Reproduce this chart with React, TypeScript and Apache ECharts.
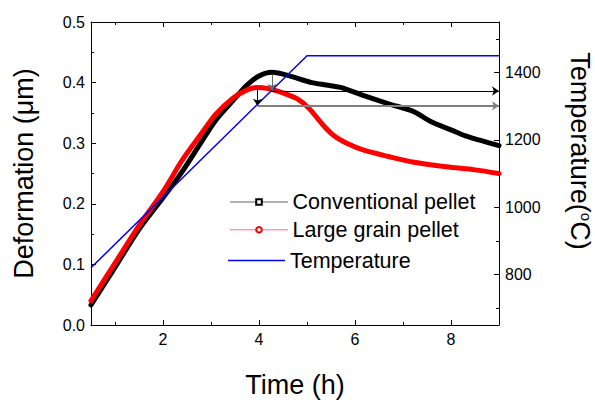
import React, { useEffect, useRef } from 'react';
import * as echarts from 'echarts';

// ---- data ----
const conventionalTime = [0.5, 1.0, 1.5, 2.0, 2.4, 2.8, 3.1, 3.5, 3.75, 4.0, 4.27, 4.5, 4.8, 5.1, 5.4, 5.7, 6.2, 6.7, 7.2, 7.6, 8.0, 8.3, 8.6, 9.0];
const conventionalDeformation = [0.033, 0.095, 0.158, 0.21, 0.253, 0.302, 0.338, 0.374, 0.396, 0.411, 0.417, 0.414, 0.407, 0.4, 0.396, 0.392, 0.378, 0.365, 0.353, 0.335, 0.322, 0.312, 0.305, 0.296];
const largeGrainTime = [0.5, 1.0, 1.5, 2.0, 2.4, 2.8, 3.1, 3.45, 3.75, 3.95, 4.2, 4.5, 4.8, 5.05, 5.3, 5.55, 5.85, 6.2, 6.7, 7.2, 7.9, 8.5, 9.0];
const largeGrainDeformation = [0.04, 0.102, 0.164, 0.22, 0.272, 0.316, 0.348, 0.374, 0.388, 0.392, 0.39, 0.383, 0.373, 0.357, 0.333, 0.313, 0.299, 0.288, 0.278, 0.269, 0.261, 0.256, 0.25];
const temperatureTime = [0.5, 5.0, 9.0];
const temperatureValues = [820, 1450, 1450];

const xMajorTicks = [2, 4, 6, 8];
const xMinorTicks = [1, 3, 5, 7, 9];
const tempMajorTicks = [800, 1000, 1200, 1400];
const tempMinorTicks = [700, 900, 1100, 1300, 1500];

const arrowTimes = [4.27, 3.97];
const arrowStartTemps = [1394, 1352];
const arrowEndTemps = [1345, 1301];
const arrowEndTime = 9;

const FONT = '"Liberation Sans", Arial, sans-serif';

export default function App() {
  const ref = useRef<HTMLDivElement>(null);
  useEffect(() => {
    if (!ref.current) return;
    const chart = echarts.init(ref.current, undefined, { renderer: 'svg' });
    const axisLine = { show: true, lineStyle: { color: '#000', width: 1 } };
    const baseX = { type: 'value', min: 0.5, max: 9, splitLine: { show: false } };
    const baseT = { type: 'value', min: 650, max: 1550, splitLine: { show: false } };

    const verticalStyles = [
      { color: '#666', width: 1 },
      { color: '#000', width: 1 },
    ];
    const horizontalStyles = [
      { color: '#000', width: 1 },
      { color: '#808080', width: 2 },
    ];
    const markData: any[] = [];
    arrowTimes.forEach((t, i) => {
      markData.push([
        { coord: [t, arrowStartTemps[i]], lineStyle: { ...verticalStyles[i], type: 'solid' } },
        { coord: [t, arrowEndTemps[i]] },
      ]);
      markData.push([
        { coord: [t, arrowEndTemps[i]], lineStyle: { ...horizontalStyles[i], type: 'solid' } },
        { coord: [arrowEndTime, arrowEndTemps[i]] },
      ]);
    });

    const option: any = {
      animation: false,
      textStyle: { fontFamily: FONT, color: '#000' },
      grid: { left: 91, right: 96, top: 22, bottom: 75, containLabel: false },
      xAxis: [
        {
          ...baseX,
          position: 'bottom',
          axisLine,
          axisTick: { show: true, inside: true, length: 5, customValues: xMajorTicks, lineStyle: { color: '#000' } },
          axisLabel: { show: true, customValues: xMajorTicks, fontSize: 16, color: '#000', margin: 6, fontFamily: FONT },
          name: 'Time (h)',
          nameLocation: 'middle',
          nameGap: 46,
          nameTextStyle: { fontSize: 27, color: '#000', fontFamily: FONT },
        },
        {
          ...baseX,
          position: 'bottom',
          axisLine: { show: false },
          axisTick: { show: true, inside: true, length: 3, customValues: xMinorTicks, lineStyle: { color: '#000' } },
          axisLabel: { show: false },
        },
        {
          ...baseX,
          position: 'top',
          axisLine,
          axisTick: { show: true, inside: true, length: 5, customValues: xMajorTicks, lineStyle: { color: '#000' } },
          axisLabel: { show: false },
        },
        {
          ...baseX,
          position: 'top',
          axisLine: { show: false },
          axisTick: { show: true, inside: true, length: 3, customValues: xMinorTicks, lineStyle: { color: '#000' } },
          axisLabel: { show: false },
        },
      ],
      yAxis: [
        {
          type: 'value',
          min: 0,
          max: 0.5,
          interval: 0.1,
          position: 'left',
          splitLine: { show: false },
          axisLine,
          axisTick: { show: true, inside: true, length: 5, lineStyle: { color: '#000' } },
          minorTick: { show: true, splitNumber: 2, length: 3, lineStyle: { color: '#000' } },
          axisLabel: { fontSize: 16, color: '#000', margin: 6, fontFamily: FONT, formatter: (v: number) => v.toFixed(1) },
          name: 'Deformation (\u03bcm)',
          nameLocation: 'middle',
          nameGap: 54,
          nameTextStyle: { fontSize: 27, color: '#000', fontFamily: FONT },
        },
        {
          ...baseT,
          position: 'right',
          axisLine,
          axisTick: { show: true, inside: true, length: 5, customValues: tempMajorTicks, lineStyle: { color: '#000' } },
          axisLabel: {
            show: true,
            customValues: tempMajorTicks,
            fontSize: 16,
            color: '#000',
            margin: 6,
            fontFamily: FONT,
            formatter: (v: number) => String(v),
          },
        },
        {
          ...baseT,
          position: 'right',
          axisLine: { show: false },
          axisTick: { show: true, inside: true, length: 3, customValues: tempMinorTicks, lineStyle: { color: '#000' } },
          axisLabel: { show: false },
        },
      ],
      legend: [
        {
          data: [
            { name: 'Conventional pellet', lineStyle: { color: '#606060', width: 1 } },
            { name: 'Large grain pellet', lineStyle: { color: '#ff7070', width: 1 } },
          ],
          orient: 'vertical',
          left: 230,
          top: 191,
          padding: 0,
          itemGap: 5.8,
          itemWidth: 57,
          itemHeight: 7,
          selectedMode: false,
          lineStyle: { width: 1 },
          textStyle: { fontSize: 21.5, color: '#000', fontFamily: FONT },
        },
        {
          data: [{ name: 'Temperature', icon: 'rect' }],
          orient: 'vertical',
          left: 228,
          top: 249.5,
          padding: 0,
          itemWidth: 57,
          itemHeight: 1.5,
          selectedMode: false,
          textStyle: { fontSize: 21.5, color: '#000', fontFamily: FONT },
        },
      ],
      graphic: [
        {
          type: 'text',
          x: 580,
          y: 151,
          rotation: -Math.PI / 2,
          style: {
            text: 'Temperature({s|o}C)',
            align: 'center',
            verticalAlign: 'middle',
            fontSize: 27,
            fontFamily: FONT,
            fill: '#000',
            rich: { s: { fontSize: 15, fontFamily: FONT, verticalAlign: 'top', fill: '#000' } },
          },
        },
      ],
      series: [
        {
          name: 'Conventional pellet',
          type: 'line',
          xAxisIndex: 0,
          yAxisIndex: 0,
          data: conventionalTime.map((t, i) => [t, conventionalDeformation[i]]),
          symbol: 'emptyRect',
          symbolSize: 5,
          showSymbol: false,
          smooth: 0.3,
          lineStyle: { color: '#000', width: 5, cap: 'round', join: 'round' },
          itemStyle: { color: '#000' },
          z: 2,
        },
        {
          name: 'Large grain pellet',
          type: 'line',
          xAxisIndex: 0,
          yAxisIndex: 0,
          data: largeGrainTime.map((t, i) => [t, largeGrainDeformation[i]]),
          symbol: 'emptyCircle',
          symbolSize: 5,
          showSymbol: false,
          smooth: 0.3,
          lineStyle: { color: '#ff0000', width: 5, cap: 'round', join: 'round' },
          itemStyle: { color: '#ff0000' },
          z: 3,
        },
        {
          name: 'Temperature',
          type: 'line',
          xAxisIndex: 0,
          yAxisIndex: 1,
          data: temperatureTime.map((t, i) => [t, temperatureValues[i]]),
          symbol: 'none',
          lineStyle: { color: '#0000ff', width: 1.5 },
          itemStyle: { color: '#0000ff' },
          z: 4,
          markLine: {
            silent: true,
            symbol: ['none', 'arrow'],
            symbolSize: 7,
            label: { show: false },
            emphasis: { disabled: true },
            data: markData,
          },
        },
      ],
    };
    chart.setOption(option);
    return () => chart.dispose();
  }, []);
  return <div ref={ref} style={{ position: 'absolute', left: 0, top: 0, width: 595, height: 403 }} />;
}
